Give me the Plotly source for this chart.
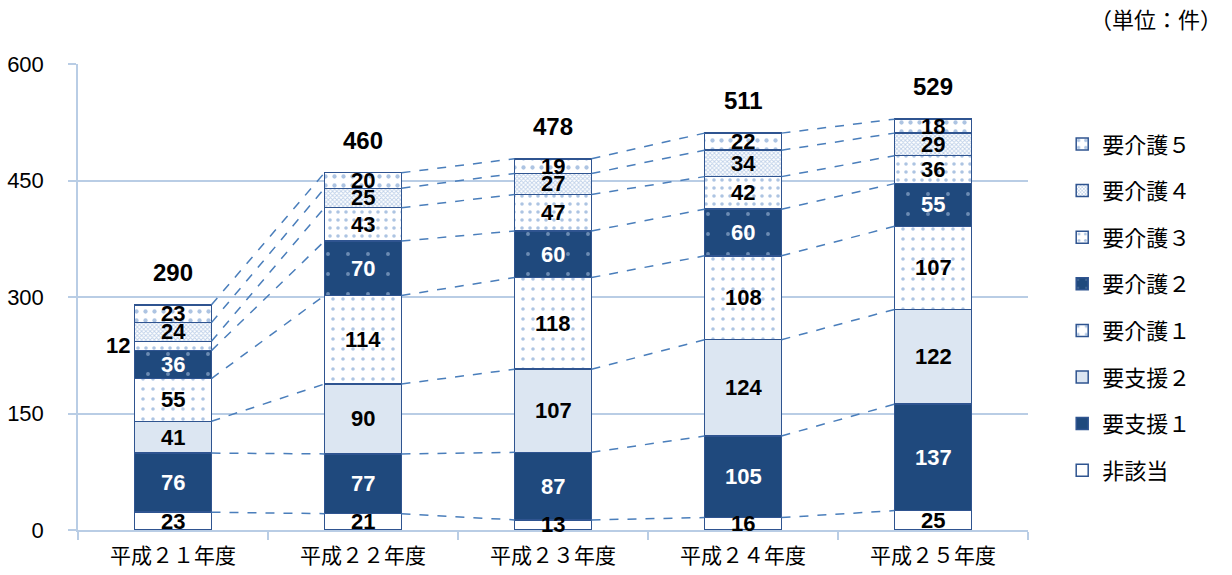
import plotly.graph_objects as go
import numpy as np

# Fiscal years (x-axis categories)
years = ["平成２１年度", "平成２２年度", "平成２３年度", "平成２４年度", "平成２５年度"]

# Counts per care level, bottom of the stack first
series_names = ["非該当", "要支援１", "要支援２", "要介護１", "要介護２", "要介護３", "要介護４", "要介護５"]
higaitou = [23, 21, 13, 16, 25]
youshien1 = [76, 77, 87, 105, 137]
youshien2 = [41, 90, 107, 124, 122]
youkaigo1 = [55, 114, 118, 108, 107]
youkaigo2 = [36, 70, 60, 60, 55]
youkaigo3 = [12, 43, 47, 42, 36]
youkaigo4 = [24, 25, 27, 34, 29]
youkaigo5 = [23, 20, 19, 22, 18]
series_values = [higaitou, youshien1, youshien2, youkaigo1, youkaigo2, youkaigo3, youkaigo4, youkaigo5]

y_ticks = [0, 150, 300, 450, 600]

DARK = "#1f497d"
LIGHT = "#dce6f2"
EDGE = "#2f5490"
DOT = "#5b8ac6"
GRID = "#b9cde5"

styles = [
    dict(color="white", pattern=None),
    dict(color=DARK, pattern=None),
    dict(color=LIGHT, pattern=None),
    dict(color="white", pattern=dict(shape=".", fgcolor=DOT, bgcolor="white", size=10, solidity=0.1, fillmode="overlay")),
    dict(color=DARK, pattern=dict(shape=".", fgcolor="#b7cdea", bgcolor=DARK, size=20, solidity=0.03, fillmode="overlay")),
    dict(color="white", pattern=dict(shape=".", fgcolor=DOT, bgcolor="white", size=8, solidity=0.16, fillmode="overlay")),
    dict(color=LIGHT, pattern=dict(shape="x", fgcolor="#7fa3d3", bgcolor="white", size=3, solidity=0.5, fillmode="overlay")),
    dict(color="white", pattern=dict(shape=".", fgcolor=DOT, bgcolor="white", size=9, solidity=0.18, fillmode="overlay")),
]
label_colors = ["black", "white", "black", "black", "white", "black", "black", "black"]

x = np.arange(len(years))
bar_w = 0.405

fig = go.Figure()

n_series = len(series_names)
for k, (name, vals, st) in enumerate(zip(series_names, series_values, styles)):
    marker = dict(color=st["color"], line=dict(color=EDGE, width=1.5))
    if st["pattern"] is not None:
        marker["pattern"] = st["pattern"]
    fig.add_trace(go.Bar(
        x=x, y=vals, name=name, width=bar_w, marker=marker,
        legendgroup=name, legendrank=n_series - k, hoverinfo="skip",
    ))

# Series lines connecting the segment boundaries of neighbouring bars
cum = np.cumsum(np.array(series_values), axis=0)
for k in range(cum.shape[0]):
    xs, ys = [], []
    for i in range(len(years) - 1):
        xs += [x[i] + bar_w / 2, x[i + 1] - bar_w / 2, None]
        ys += [cum[k, i], cum[k, i + 1], None]
    fig.add_trace(go.Scatter(
        x=xs, y=ys, mode="lines", showlegend=False, hoverinfo="skip",
        line=dict(color="#4a7ebb", width=1.5, dash="dash"),
    ))

annotations = []
num_font = "Liberation Sans"
for k, vals in enumerate(series_values):
    for i, v in enumerate(vals):
        mid = cum[k, i] - v / 2
        if v <= 12:
            annotations.append(dict(
                x=x[i] - bar_w / 2, y=mid, text=f"<b>{v}</b>", showarrow=False,
                xanchor="right", xshift=-3, font=dict(family=num_font, size=22, color="black"),
            ))
        else:
            annotations.append(dict(
                x=x[i], y=mid, text=f"<b>{v}</b>", showarrow=False,
                font=dict(family=num_font, size=22, color=label_colors[k]),
            ))

totals = cum[-1]
for i, t in enumerate(totals):
    annotations.append(dict(
        x=x[i], y=t, text=f"<b>{int(t)}</b>", showarrow=False, yanchor="bottom",
        yshift=17, font=dict(family=num_font, size=24, color="black"),
    ))

annotations.append(dict(
    xref="paper", yref="paper", x=(1224 - 78) / 950, y=(575 - 45 - 18) / 466,
    xanchor="right", yanchor="middle",
    text="（単位：件）", showarrow=False,
    font=dict(family="Noto Sans CJK JP", size=22, color="black"),
))

fig.update_layout(
    barmode="stack",
    width=1232, height=575,
    margin=dict(l=78, r=204, t=64, b=45, autoexpand=False),
    plot_bgcolor="white", paper_bgcolor="white",
    annotations=annotations,
    legend=dict(
        x=1.036, xanchor="left", y=0.873, yanchor="top",
        traceorder="grouped", tracegroupgap=15,
        font=dict(family="Noto Sans CJK JP", size=22, color="black"),
        itemwidth=30,
    ),
    xaxis=dict(
        range=[-0.5, 4.5], tickmode="array", tickvals=x, ticktext=years,
        showgrid=False, zeroline=False, showline=True, linecolor=GRID, linewidth=1.5,
        ticks="", ticklabelstandoff=6, automargin=False,
        tickfont=dict(family="Noto Sans CJK JP", size=21, color="black"),
        minor=dict(tickmode="linear", tick0=-0.5, dtick=1, ticks="outside", ticklen=8,
                   tickcolor=GRID, tickwidth=1.5, showgrid=False),
    ),
    yaxis=dict(
        range=[0, 600], tickmode="array", tickvals=y_ticks,
        showgrid=True, gridcolor=GRID, gridwidth=1.5, zeroline=False,
        showline=True, linecolor=GRID, linewidth=1.5,
        ticks="outside", ticklen=8, tickcolor=GRID, tickwidth=1.5,
        ticklabelstandoff=20, automargin=False,
        tickfont=dict(family="Liberation Sans", size=22, color="black"),
    ),
)

fig.write_html("out.html")
